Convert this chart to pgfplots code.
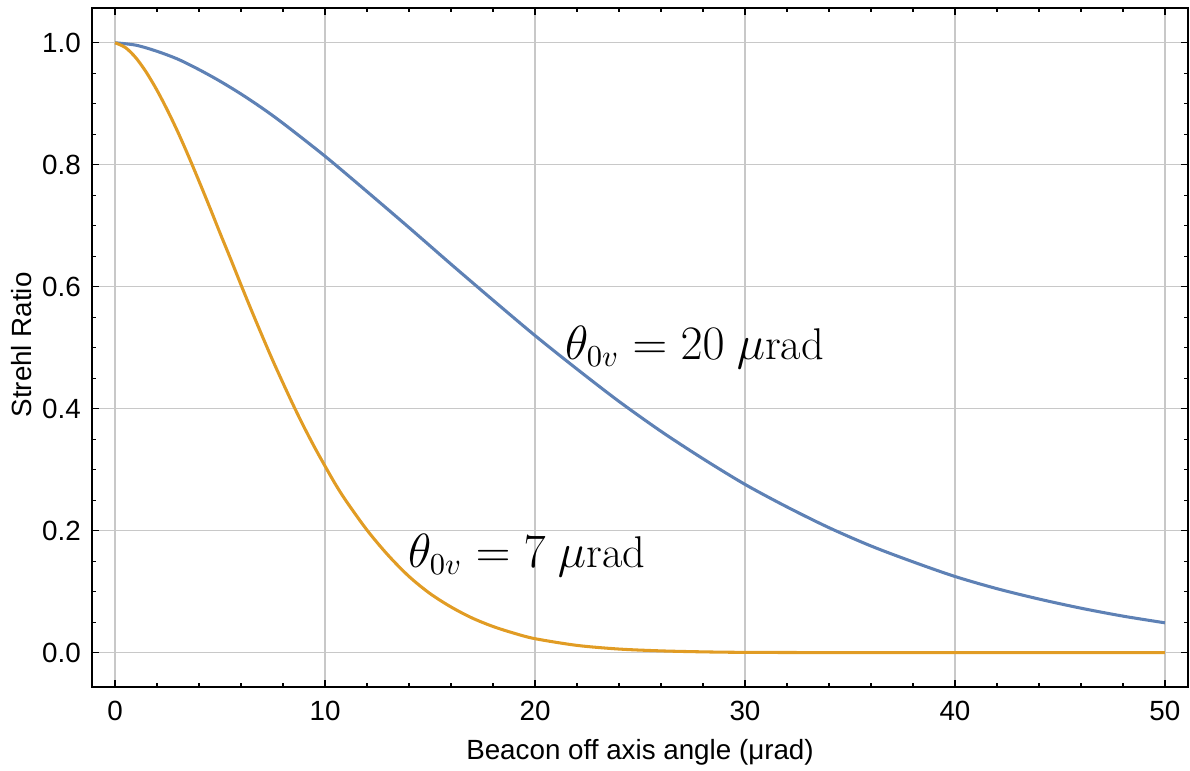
\documentclass[border=0pt]{standalone}
\usepackage{fontspec}
\setmainfont{Liberation Sans}
\setmathrm{Latin Modern Roman}
\usepackage{pgfplots}
\pgfplotsset{compat=1.18}
\definecolor{mblue}{HTML}{5E81B5}
\definecolor{morange}{HTML}{E19C24}
\definecolor{gridgray}{HTML}{C8C8C8}
\begin{document}
\begin{tikzpicture}
\begin{axis}[
  scale only axis,
  width=394.6pt, height=244.4pt,
  xmin=-1.1, xmax=51.1, ymin=-0.056, ymax=1.057,
  xtick={0,10,20,30,40,50},
  minor x tick num=4,
  ytick={0,0.2,0.4,0.6,0.8,1.0},
  minor y tick num=3,
  tick align=inside,
  major tick length=2.5pt, minor tick length=1.4pt,
  every tick/.style={black, line width=0.5pt},
  axis line style={line width=0.7pt},
  grid=major, grid style={line width=0.5pt, draw=gridgray},
  /pgf/number format/assume math mode=true,
  tick label style={font=\fontsize{10}{12}\selectfont},
  yticklabel style={/pgf/number format/fixed, /pgf/number format/fixed zerofill, /pgf/number format/precision=1, xshift=-0.5pt},
  xticklabel style={yshift=-1.5pt},
  xlabel={Beacon off axis angle (μrad)},
  ylabel={Strehl Ratio},
  label style={font=\fontsize{10}{12}\selectfont},
  x label style={at={(rel axis cs:0.5,-0.0957)}, anchor=center},
  y label style={at={(rel axis cs:-0.0639,0.5037)}, anchor=center, rotate=0},
  clip=false,
]
% theta_0v = 20 urad
\addplot[mblue, line width=1.1pt, smooth] coordinates {
(0,1.000)(1,0.996)(2,0.986)(3,0.973)(4,0.956)(5,0.937)(6,0.916)(7,0.893)(8,0.868)
(10,0.814)(12,0.756)(14,0.697)
(16,0.637)(18,0.578)(20,0.520)(22,0.465)(24,0.412)(26,0.363)(28,0.318)
(30,0.276)(32,0.239)(34,0.205)(36,0.175)(38,0.149)(40,0.125)(42,0.105)
(44,0.088)(46,0.073)(48,0.060)(50,0.049)};
% theta_0v = 7 urad
\addplot[morange, line width=1.1pt, smooth] coordinates {
(0,1.000)(0.5,0.992)(1,0.975)(1.5,0.951)(2,0.922)(2.5,0.889)(3,0.853)(3.5,0.814)
(4,0.773)(4.5,0.731)(5,0.688)(5.5,0.646)(6,0.603)(6.5,0.561)(7,0.520)(7.5,0.480)
(8,0.442)(8.5,0.405)(9,0.370)(9.5,0.337)(10,0.306)(10.5,0.276)(11,0.249)(12,0.201)(13,0.160)
(14,0.125)(15,0.097)(16,0.075)(17,0.057)(18,0.043)(19,0.032)(20,0.023)
(22,0.012)(24,0.006)(26,0.003)(28,0.0014)(30,0.0006)(35,0.0001)(40,0)(45,0)(50,0)};
\node[font=\fontsize{16}{19}\selectfont] at (axis cs:27.6,0.50) {$\theta_{0v} = 20\ \mu\mathrm{rad}$};
\node[font=\fontsize{16}{19}\selectfont] at (axis cs:19.6,0.16) {$\theta_{0v} = 7\ \mu\mathrm{rad}$};
\coordinate (bl) at (rel axis cs:-0.0839,-0.1237);
\coordinate (tr) at (rel axis cs:1.0018,1.0118);
\end{axis}
\pgfresetboundingbox
\path (bl) rectangle (tr);
\end{tikzpicture}
\end{document}
